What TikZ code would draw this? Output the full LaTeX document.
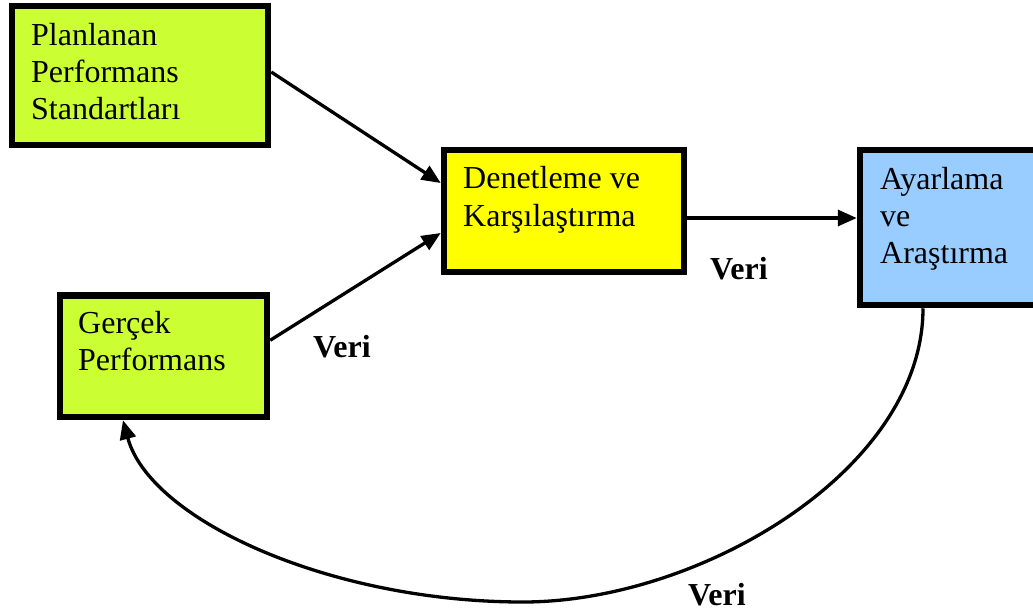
\documentclass[tikz,border=0pt]{standalone}
\usepackage{fontspec}
\setmainfont{Liberation Serif}
\usetikzlibrary{arrows.meta}

\definecolor{limefill}{HTML}{CCFF33}
\definecolor{yellowfill}{HTML}{FFFF00}
\definecolor{bluefill}{HTML}{99CCFF}

\tikzset{
  block/.style={draw=black, line width=6.5pt, rectangle, inner sep=0pt},
  boxtext/.style={anchor=base west, inner sep=0pt, align=left,
    font=\fontsize{32}{37}\selectfont},
  flowlabel/.style={anchor=base west, inner sep=0pt,
    font=\fontsize{32}{36}\selectfont\bfseries},
  flow/.style={line width=3.3pt, -{Triangle[length=19pt,width=16pt]}}
}

\begin{document}
\begin{tikzpicture}[x=1pt, y=-1pt]
  \useasboundingbox (0,0) rectangle (1033,611);
  \clip (0,0) rectangle (1033,611);

  % boxes
  \node[block, fill=limefill, minimum width=256pt, minimum height=139pt]
    (plan) at (140,75.5) {};
  \node[block, fill=yellowfill, minimum width=240pt, minimum height=122pt]
    (check) at (564,211) {};
  \node[block, fill=bluefill, minimum width=177pt, minimum height=155pt]
    (adjust) at (948.5,227.5) {};
  \node[block, fill=limefill, minimum width=207pt, minimum height=121.5pt]
    (actual) at (163.5,356.25) {};

  % box texts, placed by the baseline of their last line
  \node[boxtext] (plantext) at (31,119) {Planlanan\\Performans\\Standartları};
  \node[boxtext, font=\fontsize{32}{38}\selectfont] (checktext) at (463,226)
    {Denetleme ve\\Karşılaştırma};
  \node[boxtext] (adjusttext) at (880,263) {Ayarlama\\ve\\Araştırma};
  \node[boxtext] (actualtext) at (78,370) {Gerçek\\Performans};

  % connectors
  \draw[flow] ([yshift=3.5pt]plan.east) -- ([yshift=28pt]check.west);
  \draw[flow] ([yshift=16pt]actual.east) -- ([yshift=-22pt]check.west);
  \draw[flow] ([yshift=-7pt]check.east) -- ([yshift=9.5pt]adjust.west);

  \coordinate (low) at (523,602);
  \draw[flow] ([xshift=-25.5pt]adjust.south)
    .. controls (923,470) and (700,602) .. (low)
    .. controls (330,602) and (150,520) .. ([xshift=-40.5pt]actual.south);

  % labels
  \node[flowlabel] (veri1) at (710,279) {Veri};
  \node[flowlabel] (veri2) at (313,357) {Veri};
  \node[flowlabel] (veri3) at (688,605) {Veri};
\end{tikzpicture}
\end{document}
